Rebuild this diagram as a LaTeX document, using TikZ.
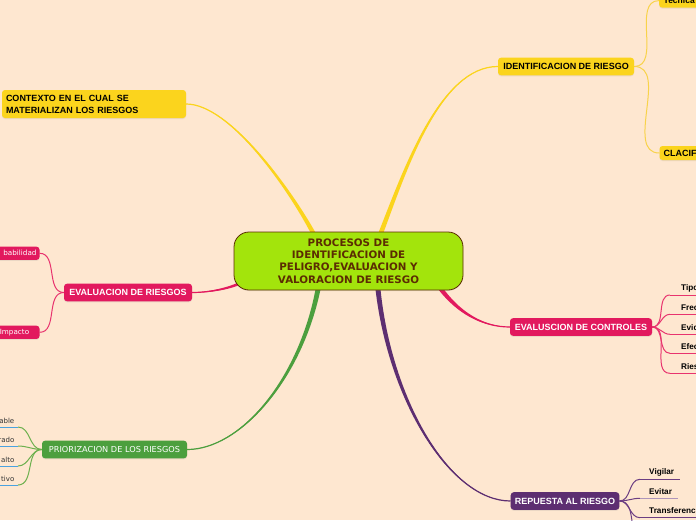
\documentclass[tikz,border=0pt]{standalone}
\usepackage{fontspec}
\setmainfont{Liberation Sans}
\newfontfamily\verdana{DejaVu Sans}
\usetikzlibrary{positioning, calc, shadows}

\pgfdeclarelayer{paper}
\pgfdeclarelayer{links}
\pgfsetlayers{paper,links,main}

\definecolor{pagebg}{HTML}{FEE7D0}
\definecolor{ylw}{HTML}{FBD41D}
\definecolor{ylwln}{HTML}{F8D34A}
\definecolor{pnk}{HTML}{E2195E}
\definecolor{pnkln}{HTML}{E8336E}
\definecolor{grn}{HTML}{4C9F3E}
\definecolor{grnln}{HTML}{6DB04E}
\definecolor{prp}{HTML}{5D2E71}
\definecolor{prpln}{HTML}{6C3E82}
\definecolor{lime}{HTML}{A3E40C}
\definecolor{brwn}{HTML}{5B2C02}
\definecolor{bluln}{HTML}{4AA2E0}

% tapered main branch: colour, half width, from, control a, control b, to
\newcommand{\trunk}[6]{%
  \fill[#1] ($(#3)+(#2)$) .. controls ($(#4)+0.667*(#2)$) and ($(#5)+0.333*(#2)$) .. (#6)
    .. controls ($(#5)-0.333*(#2)$) and ($(#4)-0.667*(#2)$) .. ($(#3)-(#2)$) -- cycle;
  \draw[#1, line width=1.2pt] (#3) .. controls (#4) and (#5) .. (#6);
}

\begin{document}
\begin{tikzpicture}[x=1pt, y=-1pt,
    root/.style={rectangle, draw=brwn, line width=0.8pt, rounded corners=15pt, fill=lime, text=brwn,
      font=\verdana\bfseries\fontsize{10.3}{12.3}\selectfont, align=center, minimum width=229, minimum height=58,
      drop shadow={opacity=0.15, shadow xshift=0pt, shadow yshift=-1pt}},
    topic/.style={rectangle, rounded corners=3pt, inner xsep=4, inner ysep=0, minimum height=17.6,
      font=\bfseries\fontsize{9}{12}\selectfont, text=white,
      drop shadow={opacity=0.15, shadow xshift=0pt, shadow yshift=-1pt}},
    chip/.style={rectangle, rounded corners=3pt, inner xsep=3, inner ysep=0, minimum height=13.3,
      text width=44, fill=pnk, text=white, font=\verdana\fontsize{7.2}{8}\selectfont,
      drop shadow={opacity=0.15, shadow xshift=0pt, shadow yshift=-1pt}},
    leaf/.style={inner sep=0, font=\bfseries\fontsize{8.2}{10}\selectfont, text=black},
    soft/.style={inner sep=0, font=\verdana\fontsize{7}{8}\selectfont, text=black!80},
    thin/.style={line width=1pt},
]
\useasboundingbox (0,0) rectangle (696,520);
\begin{pgfonlayer}{paper}
\fill[pagebg] (0,0) rectangle (696,520);
\end{pgfonlayer}

% central topic
\node[root] (root) at (348.5,261) {PROCESOS DE\\IDENTIFICACION DE\\PELIGRO,EVALUACION Y\\VALORACION DE RIESGO};

% main topics
\node[topic, fill=ylw, text=black, minimum width=184, minimum height=28, text width=176, align=left,
  font=\bfseries\fontsize{9}{12}\selectfont] (ctx) at (94,104) {CONTEXTO EN EL CUAL SE\\MATERIALIZAN LOS RIESGOS};
\node[topic, fill=ylw, text=black, minimum width=136] (ident) at (566,66.5) {IDENTIFICACION DE RIESGO};
\node[topic, fill=pnk, minimum width=128] (evalr) at (128,292.5) {EVALUACION DE RIESGOS};
\node[topic, fill=pnk, minimum width=142] (evalc) at (581,327) {EVALUSCION DE CONTROLES};
\node[topic, fill=prp, minimum width=108.6] (resp) at (565,501) {REPUESTA AL RIESGO};
\node[topic, fill=grn, minimum width=145, font=\verdana\fontsize{8.2}{10}\selectfont] (prio) at (114.5,449.5) {PRIORIZACION DE LOS RIESGOS};

% sub topics
\node[topic, fill=ylw, text=black, anchor=west, text width=60, align=left, inner xsep=4.5, minimum height=14,
  font=\bfseries\fontsize{8.5}{10}\selectfont] (tec) at (659,0.6) {Tecnica};
\node[topic, fill=ylw, text=black, anchor=west, text width=60, align=left, inner xsep=4, minimum height=14] (clac) at (659.3,153) {CLACIF};
\node[chip, align=right] (prob) at (14.5,253.3) {babilidad};
\node[chip, align=center] (imp) at (14.5,332.3) {Impacto};

\coordinate (ctx-in) at ($(root.north)+(-35.5,1)$);
\coordinate (id-in) at ($(root.north)+(32.5,1)$);
\coordinate (ec-in) at ($(root.south east)+(-23,-2)$);
\coordinate (rs-in) at ($(root.south)+(29.5,-1)$);
\coordinate (pr-in) at ($(root.south)+(-30.5,-1)$);
\coordinate (er-in) at ($(root.south west)+(6,-7)$);

\begin{pgfonlayer}{links}
% main branches
\trunk{ylw}{2.5,0}{ctx-in}{290,190}{230,104}{ctx.east}
\trunk{ylw}{2.5,0}{id-in}{405,170}{440,66.5}{ident.west}
\trunk{pnk}{1.6,-1.6}{ec-in}{458,312}{482,327}{evalc.west}
\trunk{prp}{2.5,0}{rs-in}{390,400}{450,501}{resp.west}
\trunk{grn}{2.5,0}{pr-in}{300,380}{240,449.5}{prio.east}
\trunk{pnk}{0,1.5}{er-in}{225,290}{205,292.5}{evalr.east}

% thin branches
\draw[ylwln, thin] (ident.east) to[out=0, in=180] (tec.west);
\draw[ylwln, thin] (ident.east) to[out=0, in=180] (clac.west);
\draw[pnkln, thin] (evalr.west) to[out=180, in=0] (prob.east);
\draw[pnkln, thin] (evalr.west) to[out=180, in=0] (imp.east);

\foreach \yy/\tx/\nm in {427/able/pa, 446/rado/pb, 466/alto/pc, 485/tivo/pd}{
  \coordinate (\nm-a) at (18,\yy);
  \coordinate (\nm-b) at (-2,\yy);
  \node[soft, anchor=east] (\nm) at (14.5,\yy-6) {\tx};
  \draw[grnln, thin] (prio.west) to[out=180, in=0] (\nm-a);
  \draw[bluln, thin] (\nm-a) -- (\nm-b);
}

\foreach \yy/\tx/\nm in {295/Tipo/ca, 314.3/Frec/cb, 334.3/Evid/cc, 353.3/Efec/cd, 373.3/Ries/ce}{
  \coordinate (\nm-a) at (670,\yy);
  \coordinate (\nm-b) at (700,\yy);
  \node[leaf, anchor=west] (\nm) at (681,\yy-6.6) {\tx};
  \draw[pnkln, thin] (evalc.east) to[out=0, in=180] (\nm-a);
  \draw[pnkln, thin] (\nm-a) -- (\nm-b);
}

\foreach \yy/\xe/\tx/\nm/\cl in {479.3/680/Vigilar/ra/prpln, 498.3/678/Evitar/rb/prpln!55, 517.7/700/Transferenc/rc/prpln}{
  \coordinate (\nm-a) at (640,\yy);
  \coordinate (\nm-b) at (\xe,\yy);
  \node[leaf, anchor=west] (\nm) at (649,\yy-6.8) {\tx};
  \draw[prpln, thin] (resp.east) to[out=0, in=180] (\nm-a);
  \draw[\cl, thin] (\nm-a) -- (\nm-b);
}
\coordinate (rd-a) at (645,545);
\draw[prpln, thin] (resp.east) to[out=0, in=180] (rd-a);
\end{pgfonlayer}
\end{tikzpicture}
\end{document}
